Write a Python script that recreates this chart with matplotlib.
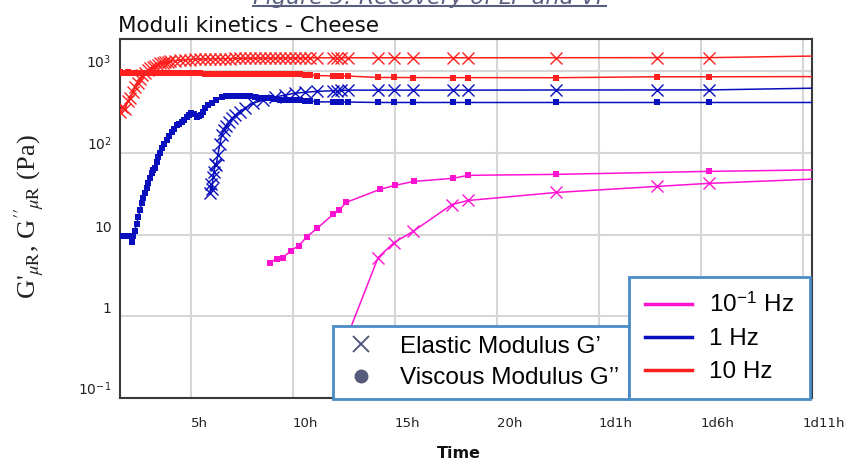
import matplotlib
matplotlib.use('Agg')
import matplotlib.pyplot as plt
from matplotlib.lines import Line2D

# 10 Hz run: time (h), G' and G'' (Pa)
t_10hz = [1.52, 1.62, 1.76, 1.91, 2.01, 2.16, 2.25, 2.40, 2.50, 2.62,
          2.75, 2.87, 2.99, 3.12, 3.24, 3.36, 3.48, 3.61, 3.73, 3.85,
          3.97, 4.22, 4.46, 4.71, 4.95, 5.20, 5.44, 5.69, 5.93, 6.18,
          6.42, 6.67, 6.91, 7.16, 7.40, 7.65, 7.89, 8.14, 8.38, 8.63,
          8.87, 9.12, 9.36, 9.61, 9.85, 10.10, 10.34, 10.59, 10.83, 11.18,
          11.96, 12.15, 12.35, 12.70, 14.17, 14.95, 15.88, 17.84, 18.58, 22.89,
          27.84, 30.39, 37.5]
g1_10hz = [314, 360, 340, 430, 470, 560, 640, 720, 800, 900,
           960, 1030, 1080, 1120, 1170, 1200, 1240, 1260, 1290, 1300,
           1320, 1340, 1360, 1370, 1385, 1395, 1400, 1405, 1410, 1415,
           1420, 1420, 1425, 1430, 1430, 1435, 1435, 1440, 1440, 1442,
           1444, 1444, 1446, 1448, 1448, 1450, 1450, 1452, 1452, 1454,
           1455, 1455, 1456, 1456, 1456, 1456, 1456, 1456, 1456, 1458,
           1460, 1460, 1555]
g2_10hz = [975, 960, 950, 965, 945, 955, 940, 950, 945, 955,
           950, 945, 948, 940, 948, 942, 940, 945, 940, 942,
           940, 942, 938, 940, 935, 938, 935, 934, 932, 932,
           930, 930, 930, 928, 928, 926, 925, 925, 925, 922,
           922, 920, 920, 918, 918, 915, 912, 905, 895, 880,
           876, 875, 872, 870, 835, 835, 833, 832, 832, 830,
           852, 852, 858]

# 1 Hz run
t_1hz = [1.52, 1.76, 2.01, 2.09, 2.17, 2.25, 2.33, 2.42, 2.50, 2.58,
         2.66, 2.75, 2.82, 2.89, 2.98, 3.07, 3.15, 3.24, 3.31, 3.38,
         3.47, 3.56, 3.68, 3.81, 3.93, 4.05, 4.18, 4.30, 4.42, 4.54,
         4.67, 4.79, 4.90, 5.00, 5.14, 5.28, 5.38, 5.49, 5.59, 5.69,
         5.85, 6.01, 6.25, 6.50, 6.70, 6.91, 7.16, 7.40, 7.65, 7.89,
         8.14, 8.38, 8.63, 8.87, 9.12, 9.36, 9.61, 9.85, 10.10, 10.34,
         10.59, 10.83, 11.18, 11.96, 12.15, 12.35, 12.70, 14.17, 14.95, 15.88,
         17.84, 18.58, 22.89, 27.84, 30.39, 37.5]
g2_1hz = [9.7, 9.6, 9.5, 8.2, 9.6, 11.2, 13.5, 16.2, 20, 24,
          28, 31.8, 37, 42.3, 49, 56, 61, 66, 77, 88,
          100, 114, 128, 142, 160, 179, 198, 217, 227, 237,
          255, 273, 290, 305, 295, 275, 280, 290, 320, 352,
          380, 405, 445, 480, 492, 498, 498, 498, 495, 490,
          482, 475, 470, 467, 455, 441, 441, 441, 440, 438,
          434, 430, 420, 420, 419, 418, 418, 413, 413, 413,
          413, 413, 413, 413, 413, 413]
t_1hz_g1 = [5.93, 5.98, 6.03, 6.08, 6.13, 6.18, 6.23, 6.32, 6.42, 6.50,
            6.61, 6.72, 6.86, 7.01, 7.16, 7.40, 7.65, 8.04, 8.53, 9.12,
            9.61, 10.10, 10.59, 11.18, 11.96, 12.15, 12.35, 12.70, 14.17, 14.95,
            15.88, 17.84, 18.58, 22.89, 27.84, 30.39, 37.5]
g1_1hz = [32, 42, 36, 50, 58, 74, 70, 95, 130, 164,
          190, 215, 240, 265, 288, 320, 352, 405, 441, 484,
          508, 537, 550, 565, 575, 578, 580, 585, 585, 585,
          585, 585, 585, 587, 588, 588, 630]

# 0.1 Hz run
t_01hz_g2 = [8.87, 9.22, 9.51, 9.90, 10.29, 10.69, 11.18, 11.96, 12.25, 12.60,
             14.26, 15.0, 15.93, 17.84, 18.58, 22.89, 30.39, 37.5]
g2_01hz = [4.53, 5.08, 5.23, 6.37, 7.33, 9.45, 11.9, 17.6, 19.7, 24.7,
           35.7, 40, 44.7, 48.7, 53, 54.5, 59.3, 62.8]
t_01hz_g1 = [12.30, 12.70, 14.17, 14.95, 15.88, 17.79, 18.58, 22.89, 27.84,
             30.39, 37.5]
g1_01hz = [0.3, 0.6, 5.23, 7.97, 10.9, 23.3, 26.1, 32.7, 38.8,
           42.3, 50]

x_ticks = [5, 10, 15, 20, 25, 30, 35]
x_ticklabels = ['5h', '10h', '15h', '20h', '1d1h', '1d6h', '1d11h']
y_ticks = [0.1, 1, 10, 100, 1000]
y_ticklabels = [r'10$^{\mathregular{-1}}$', '1', '10',
                r'10$^{\mathregular{2}}$', r'10$^{\mathregular{3}}$']

RED = '#ff1f1f'
BLUE = '#0a0fbe'
MAGENTA = '#ff12d2'

plt.rcParams['mathtext.fontset'] = 'stix'

fig = plt.figure(figsize=(8.61, 4.62), dpi=100)
ax = fig.add_axes([120 / 861, 1 - 398 / 462, 692 / 861, 359 / 462])

series = [
    (t_10hz, g1_10hz, RED, 'x'),
    (t_10hz, g2_10hz, RED, 's'),
    (t_1hz_g1, g1_1hz, BLUE, 'x'),
    (t_1hz, g2_1hz, BLUE, 's'),
    (t_01hz_g1, g1_01hz, MAGENTA, 'x'),
    (t_01hz_g2, g2_01hz, MAGENTA, 's'),
]
for t, g, c, m in series:
    if m == 'x':
        ax.plot(t, g, color=c, lw=1.1, marker='x', ms=8, mew=1.0, zorder=3)
    else:
        ax.plot(t, g, color=c, lw=1.1, marker='s', ms=4.5, mew=0, zorder=3)

ax.set_yscale('log')
ax.set_xlim(1.52, 35.44)
ax.set_ylim(0.1, 2470)
ax.set_xticks(x_ticks, x_ticklabels)
ax.set_yticks(y_ticks, y_ticklabels)
ax.minorticks_off()
ax.tick_params(length=0)
ax.tick_params(axis='x', pad=14, labelsize=9.5, colors='#222222')
ax.tick_params(axis='y', pad=6, labelsize=10, colors='#222222')
for lab in ax.get_xticklabels():
    lab.set_horizontalalignment('left')
for lab in ax.get_yticklabels():
    lab.set_verticalalignment('bottom')
ax.grid(True, color='#d6d6d6', lw=1.5)
ax.set_axisbelow(True)
for sp in ax.spines.values():
    sp.set_color('#3a3a3a')
    sp.set_linewidth(1.5)

# legends
mod_handles = [Line2D([], [], ls='none', marker='x', ms=11, mew=1.4, color='#565b7b'),
               Line2D([], [], ls='none', marker='o', ms=9, color='#565b7b')]
leg1 = ax.legend(mod_handles, ['Elastic Modulus G’', 'Viscous Modulus G’’'],
                 loc='lower left', bbox_to_anchor=(333 / 861, 1 - 399 / 462),
                 bbox_transform=fig.transFigure, borderaxespad=0,
                 fancybox=False, framealpha=1, edgecolor='#4a8cc8',
                 prop=dict(family='Liberation Sans', size=17.5),
                 handletextpad=0.85, labelspacing=0.4, borderpad=0.4,
                 handlelength=1.5)
leg1.get_frame().set_linewidth(2)
leg1.set_zorder(10)
ax.add_artist(leg1)

freq_handles = [Line2D([], [], color=MAGENTA, lw=2.5),
                Line2D([], [], color=BLUE, lw=2.5),
                Line2D([], [], color=RED, lw=2.5)]
leg2 = ax.legend(freq_handles, [r'10$^{\mathregular{-1}}$ Hz', '1 Hz', '10 Hz'],
                 loc='lower right', bbox_to_anchor=(810 / 861, 1 - 399 / 462),
                 bbox_transform=fig.transFigure, borderaxespad=0,
                 fancybox=False, framealpha=1, edgecolor='#4a8cc8',
                 prop=dict(family='Liberation Sans', size=17.5),
                 handletextpad=0.7, labelspacing=0.45, borderpad=0.65,
                 handlelength=1.95)
leg2.get_frame().set_linewidth(2)
leg2.set_zorder(10)

# titles and labels
fig.text(118 / 861, 1 - 31.5 / 462, 'Moduli kinetics - Cheese', fontsize=15.5,
         va='baseline', ha='left', color='#111111')
fig.text(253 / 861, 1 - 4 / 462, 'Figure 3: Recovery of LP and VP', fontsize=16,
         style='italic', va='baseline', ha='left', color='#5a5f80')
fig.add_artist(Line2D([253 / 861, 606 / 861], [1 - 5.7 / 462, 1 - 5.7 / 462],
                      color='#5a5f80', lw=1.5))
fig.text(459 / 861, 1 - 453 / 462, 'Time', fontsize=11.5, fontweight='bold',
         ha='center', va='center', color='#111111')
fig.text(29 / 861, 1 - 217 / 462,
         r"G$'_{\mu\mathrm{R}}$, G$''_{\!\mu\mathrm{R}}$ (Pa)",
         rotation=90, ha='center', va='center', fontsize=19,
         family='Liberation Serif', color='#222222')

fig.savefig('out.png', dpi=100)
